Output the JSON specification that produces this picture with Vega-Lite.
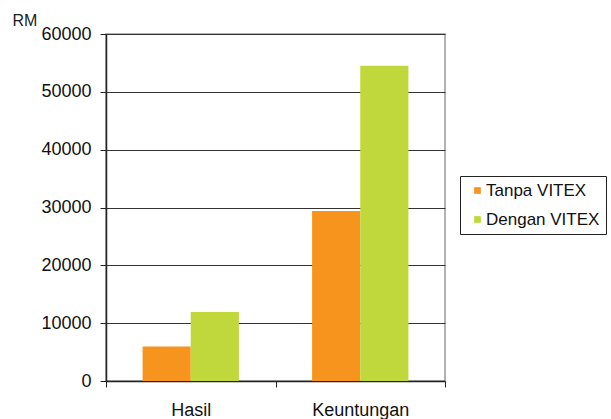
{
  "$schema": "https://vega.github.io/schema/vega-lite/v6.json",
  "autosize": "none",
  "width": 339,
  "height": 347,
  "padding": {"left": 106, "top": 34, "right": 166, "bottom": 38},
  "background": "white",
  "config": {
    "font": "Liberation Sans",
    "view": {"stroke": "#999999", "strokeWidth": 1.5}
  },
  "data": {
    "values": [
      {"kategori": "Hasil", "siri": "Tanpa VITEX", "nilai": 5950},
      {"kategori": "Hasil", "siri": "Dengan VITEX", "nilai": 11950},
      {"kategori": "Keuntungan", "siri": "Tanpa VITEX", "nilai": 29400},
      {"kategori": "Keuntungan", "siri": "Dengan VITEX", "nilai": 54500}
    ]
  },
  "mark": {"type": "bar"},
  "encoding": {
    "x": {
      "field": "kategori",
      "type": "nominal",
      "scale": {"paddingInner": 0, "paddingOuter": 0},
      "axis": {
        "title": null,
        "labelAngle": 0,
        "labelFontSize": 18,
        "labelColor": "#111",
        "labelPadding": 14,
        "tickBand": "extent",
        "tickSize": 6,
        "tickColor": "#222",
        "domainColor": "#222",
        "domainWidth": 1.5,
        "grid": false
      }
    },
    "xOffset": {
      "field": "siri",
      "type": "nominal",
      "sort": ["Tanpa VITEX", "Dengan VITEX"],
      "scale": {"paddingInner": 0, "paddingOuter": 0.76}
    },
    "y": {
      "field": "nilai",
      "type": "quantitative",
      "scale": {"domain": [0, 60000], "nice": false},
      "axis": {
        "title": "RM",
        "titleAngle": 0,
        "titleAlign": "left",
        "titleBaseline": "alphabetic",
        "titleX": -94,
        "titleY": -9,
        "titleFontSize": 16,
        "titleFontWeight": "normal",
        "titleColor": "#222",
        "values": [0, 10000, 20000, 30000, 40000, 50000, 60000],
        "format": "d",
        "labelFontSize": 18,
        "labelColor": "#111",
        "labelPadding": 9,
        "tickSize": 6,
        "tickColor": "#222",
        "domainColor": "#222",
        "domainWidth": 1.5,
        "grid": true,
        "gridColor": "#333",
        "gridWidth": 1.2
      }
    },
    "color": {
      "field": "siri",
      "type": "nominal",
      "sort": ["Tanpa VITEX", "Dengan VITEX"],
      "scale": {"domain": ["Tanpa VITEX", "Dengan VITEX"], "range": ["#F7941E", "#C0D83B"]},
      "legend": {
        "title": null,
        "orient": "none",
        "legendX": 354,
        "legendY": 142,
        "symbolType": "square",
        "symbolSize": 45,
        "symbolStrokeWidth": 0,
        "symbolOffset": 3,
        "labelOffset": 0,
        "labelFontSize": 17,
        "labelColor": "#111",
        "rowPadding": 11,
        "strokeColor": "#222",
        "fillColor": "white",
        "padding": 6
      }
    }
  }
}
